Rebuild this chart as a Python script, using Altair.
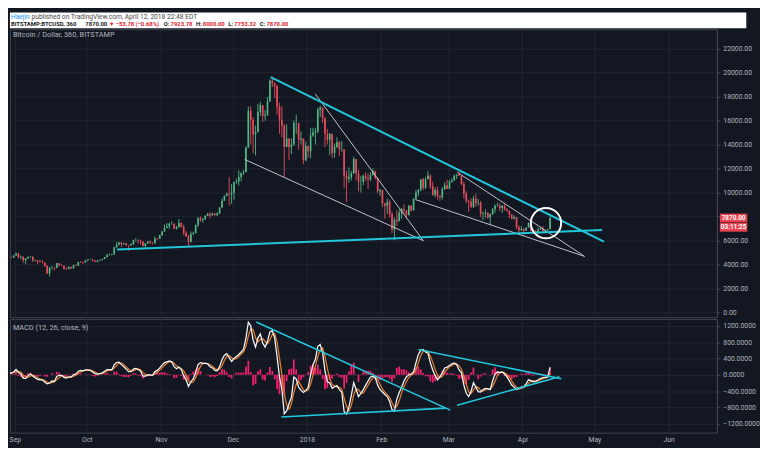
import altair as alt
import pandas as pd

# ---------------- data (daily candles) ----------------
first_open = 4560
close_aug = [4580, 4570, 4730]
close_sep = [4900, 4580, 4640, 4340, 4480, 4610, 4620, 4310, 4330, 4220,
             4190, 4160, 3870, 3240, 3700, 3700, 3690, 4090, 3910, 3880,
             3620, 3610, 3790, 3660, 3930, 3890, 4200, 4190, 4160, 4340]
close_oct = [4400, 4410, 4310, 4220, 4320, 4370, 4440, 4610, 4770, 4780,
             4820, 5430, 5640, 5830, 5680, 5750, 5600, 5570, 5700, 6000,
             6010, 5980, 5900, 5520, 5750, 5890, 5770, 5750, 6150, 6130, 6450]
close_nov = [6740, 7030, 7160, 7390, 7390, 6960, 7100, 7460, 7140, 6620,
             6340, 5860, 6530, 6600, 7280, 7850, 7700, 7790, 8040, 8200,
             8070, 8240, 8100, 8250, 8750, 9300, 9730, 9900, 9850, 9950]
close_dec = [10860, 10910, 11290, 11640, 11700, 13750, 16800, 16050, 14850, 15060,
             16730, 17280, 16400, 16490, 17600, 19340, 19100, 18900, 17140, 16100,
             15580, 13800, 14500, 13800, 14000, 15800, 15800, 14400, 14500, 12700, 13880]
close_jan = [13440, 14750, 15000, 15100, 16900, 17100, 16200, 14900, 14400, 14900,
             13300, 13800, 14200, 13600, 13600, 11400, 11150, 11300, 11600, 12800,
             11600, 10900, 10900, 11400, 11200, 11100, 11450, 11800, 11200, 10100, 10200]
close_feb = [9100, 8900, 9200, 8200, 6900, 7700, 7600, 8300, 8600, 8500,
             8100, 8900, 8500, 9500, 10000, 10200, 11100, 10400, 11100, 11400,
             10500, 9800, 10200, 9700, 9600, 10300, 10600, 10300]
close_mar = [10900, 11000, 11400, 11500, 11400, 10700, 9900, 9300, 9200, 8800,
             9500, 9100, 9150, 8200, 8250, 8300, 7900, 8200, 8600, 8900,
             8900, 8700, 8900, 8550, 8450, 8150, 7800, 7950, 7100, 6850, 6950]
close_apr = [6800, 7050, 7450, 6800, 6780, 6620, 6900, 7020, 6770, 6840, 6950, 7870]

high_aug = [4650, 4640, 4760]
high_sep = [4980, 4940, 4720, 4650, 4520, 4670, 4690, 4720, 4400, 4350,
            4380, 4360, 4190, 3920, 3780, 3870, 3790, 4120, 4110, 4030,
            3890, 3750, 3810, 3790, 3970, 3990, 4220, 4270, 4230, 4360]
high_oct = [4410, 4470, 4430, 4340, 4360, 4420, 4460, 4620, 4860, 4920,
            4880, 5450, 5850, 5840, 5860, 5780, 5770, 5600, 5740, 6060,
            6190, 6070, 6070, 5910, 5760, 5960, 6000, 5830, 6330, 6190, 6470]
high_nov = [6770, 7330, 7440, 7480, 7590, 7410, 7200, 7780, 7500, 7310,
            6800, 6460, 6740, 6730, 7320, 7960, 8000, 7860, 8110, 8290,
            8370, 8300, 8260, 8360, 8780, 9490, 9740, 9980, 11300, 10700]
high_dec = [10900, 11160, 11850, 11650, 11880, 13840, 17170, 17200, 16300, 15600,
            17400, 17580, 17290, 16900, 17990, 19450, 19666, 19200, 18960, 17500,
            17200, 15700, 15700, 14500, 14500, 16000, 16500, 15800, 15100, 14500, 14250]
high_jan = [13900, 15400, 15400, 15400, 17100, 17250, 17100, 16300, 15300, 14950,
            14900, 14100, 14600, 14300, 14300, 13600, 11800, 12100, 11800, 13000,
            12800, 11900, 11400, 11500, 11700, 11600, 11700, 12000, 11800, 11250, 10300]
high_feb = [10200, 9100, 9500, 9400, 8400, 7900, 8500, 8600, 8700, 9000,
            8500, 8950, 8950, 9500, 10200, 10300, 11100, 11250, 11300, 11780,
            11500, 10900, 10400, 10500, 9800, 10450, 10850, 11050]
high_mar = [11050, 11200, 11500, 11500, 11700, 11400, 10900, 10100, 9400, 9500,
            9700, 9900, 9450, 9300, 8400, 8600, 8350, 8250, 8700, 9000,
            9150, 9100, 8950, 9000, 8700, 8500, 8200, 8100, 7950, 7250, 7200]
high_apr = [7050, 7100, 7500, 7450, 6900, 6850, 7050, 7100, 7200, 6900, 6970, 8000]

low_aug = [4500, 4520, 4550]
low_sep = [4700, 4500, 4450, 4130, 4000, 4450, 4540, 4200, 4230, 4010,
           4140, 4080, 3780, 3200, 2980, 3560, 3480, 3680, 3850, 3850,
           3570, 3510, 3580, 3640, 3650, 3860, 3880, 4110, 4040, 4150]
low_oct = [4290, 4370, 4240, 4200, 4160, 4310, 4320, 4430, 4560, 4720,
           4750, 4810, 5380, 5580, 5450, 5640, 5520, 5130, 5550, 5620,
           5900, 5730, 5650, 5490, 5410, 5720, 5710, 5660, 5720, 6030, 6110]
low_nov = [6370, 6740, 7020, 6950, 7310, 6960, 6900, 7060, 7050, 6420,
           6280, 5520, 5830, 6440, 6600, 7120, 7560, 7480, 7710, 8040,
           7850, 8070, 8080, 8040, 8220, 8720, 9300, 9690, 8900, 9050]
low_dec = [9400, 10720, 10580, 10930, 11460, 11690, 13720, 14000, 13300, 13100,
           15000, 16400, 15900, 16000, 16390, 17580, 18800, 17900, 16500, 14900,
           14600, 11300, 13800, 12700, 13200, 13900, 14900, 13600, 14000, 12350, 12600]
low_jan = [12900, 12870, 14650, 14000, 14950, 16300, 15800, 13800, 14000, 13100,
           12850, 12900, 13700, 13050, 13400, 10400, 9200, 10800, 11000, 11550,
           11000, 10100, 10000, 10600, 10950, 10300, 10950, 11400, 11100, 9950, 9700]
low_feb = [8800, 7800, 8200, 7900, 6600, 6000, 7200, 7600, 7800, 8200,
           7850, 8100, 8400, 8500, 9400, 9700, 10100, 10200, 10300, 11100,
           10300, 9700, 9600, 9400, 9300, 9400, 10200, 10300]
low_mar = [10300, 10800, 10990, 11100, 11400, 10600, 9500, 9100, 8400, 8700,
           8700, 8800, 8900, 7950, 7700, 7900, 7800, 7300, 8100, 8300,
           8800, 8450, 8300, 8500, 8400, 7850, 7750, 7750, 6950, 6600, 6800]
low_apr = [6450, 6800, 7050, 6750, 6600, 6500, 6600, 6900, 6620, 6700, 6820, 6900]

# MACD (12, 26, close, 9)
macd_aug = [60, 40, 70]
macd_sep = [130, 60, 20, -80, -90, -20, 20, -30, -70, -110,
            -120, -120, -180, -220, -200, -150, -160, -40, -10, -10,
            -60, -80, -50, -50, 0, 20, 90, 110, 100, 120]
macd_oct = [120, 110, 70, 30, 20, 30, 50, 90, 130, 130,
            120, 250, 300, 310, 250, 200, 140, 80, 80, 140,
            160, 130, 90, -30, -30, 0, 0, -10, 80, 110, 170]
macd_nov = [240, 300, 320, 340, 320, 200, 150, 190, 130, -20,
            -120, -280, -170, -100, 60, 250, 300, 280, 280, 270,
            200, 170, 110, 100, 200, 370, 480, 520, 420, 330]
macd_dec = [400, 450, 500, 560, 620, 900, 1290, 1200, 850, 680,
            900, 1000, 780, 680, 820, 1050, 1080, 900, 450, -50,
            -350, -950, -880, -700, -550, -50, -100, -300, -380, -430, -380]
macd_jan = [-310, 0, 250, 380, 700, 740, 550, 100, -170, -200,
            -330, -290, -260, -360, -420, -900, -960, -790, -500, -190,
            -350, -530, -450, -360, -250, -150, -50, -30, -70, -250, -360]
macd_feb = [-420, -480, -530, -650, -850, -890, -600, -430, -300, -150,
            -50, 0, 20, 70, 300, 500, 600, 620, 560, 530,
            300, 120, -20, -120, -50, 50, 170, 190]
macd_mar = [230, 270, 290, 250, 120, 50, -250, -450, -530, -400,
            -190, -300, -410, -420, -360, -330, -340, -360, -150, 20,
            70, 60, 70, 20, -50, -150, -250, -300, -360, -340, -300]
macd_apr = [-290, -220, -120, -140, -170, -160, -120, -90, -70, -60, -50, 190]

sig_aug = [50, 50, 55]
sig_sep = [81, 86, 69, -2, -51, -62, -29, -10, -28, -71,
           -100, -117, -141, -175, -200, -189, -170, -115, -69, -20,
           -28, -51, -63, -60, -33, -9, 38, 74, 100, 110]
sig_oct = [113, 116, 99, 69, 39, 27, 34, 57, 91, 117,
           126, 169, 225, 287, 286, 252, 195, 139, 100, 101,
           128, 143, 126, 61, 9, -20, -10, -4, 25, 61, 121]
sig_nov = [175, 238, 287, 320, 326, 284, 221, 180, 156, 97,
           -6, -143, -190, -181, -67, 74, 206, 277, 286, 277,
           249, 212, 159, 126, 138, 227, 353, 458, 472, 421]
sig_dec = [384, 395, 451, 505, 562, 699, 946, 1132, 1107, 904,
           812, 864, 891, 817, 762, 855, 986, 1007, 801, 421,
           8, -463, -730, -840, -706, -424, -230, -154, -263, -372, -396]
sig_jan = [-372, -224, -13, 214, 450, 610, 660, 454, 152, -93,
           -236, -274, -293, -305, -349, -569, -765, -881, -744, -486,
           -347, -361, -444, -445, -351, -251, -148, -76, -51, -120, -230]
sig_feb = [-345, -422, -478, -556, -681, -799, -776, -635, -440, -290,
           -164, -65, -9, 31, 134, 295, 470, 575, 593, 569,
           459, 312, 130, -10, -63, -38, 60, 138]
sig_mar = [198, 231, 264, 270, 218, 138, -32, -223, -413, -459,
           -369, -297, -303, -378, -396, -369, -343, -344, -280, -159,
           -18, 50, 67, 49, 12, -62, -152, -235, -305, -334, -332]
sig_apr = [-310, -269, -208, -160, -144, -157, -149, -123, -93, -73, -60, 31]

# drawn trend lines (price pane)
cyan_seg = ["c1", "c1", "c2", "c2"]
cyan_dates = ["2017-12-16T20:00:00Z", "2018-05-05T00:00:00Z",
              "2017-10-13T17:00:00Z", "2018-05-04T05:00:00Z"]
cyan_prices = [19628, 5888, 5234, 6870]
white_seg = ["w1", "w1", "w2", "w2", "w3", "w3", "w4", "w4"]
white_dates = ["2017-12-06T00:00:00Z", "2018-02-18T14:00:00Z",
               "2018-01-04T10:00:00Z", "2018-02-18T14:00:00Z",
               "2018-02-15T07:00:00Z", "2018-04-26T22:00:00Z",
               "2018-03-04T17:00:00Z", "2018-04-26T22:00:00Z"]
white_prices = [12757, 5970, 18237, 5970, 9405, 4661, 11695, 4661]
circle_dates = ["2018-04-10T19:00:00Z"]
circle_prices = [7442]
# drawn trend lines (MACD pane)
mcyan_seg = ["m1", "m1", "m2", "m2", "m3", "m3", "m4", "m4"]
mcyan_dates = ["2017-12-10T19:00:00Z", "2018-03-01T20:00:00Z",
               "2017-12-21T07:00:00Z", "2018-02-27T19:00:00Z",
               "2018-02-16T12:00:00Z", "2018-04-17T05:00:00Z",
               "2018-03-04T17:00:00Z", "2018-04-16T10:00:00Z"]
mcyan_values = [1293, -862, -1030, -814, 623, -96, -742, -48]

last_price = [7870]
last_labels = ["7870.00", "03:11:25"]

price_ticks = [0, 2000, 4000, 6000, 8000, 10000, 12000, 14000, 16000, 18000, 20000, 22000]
macd_ticks = [-1200, -800, -400, 0, 400, 800, 1200]
month_ticks = [(2017, 9), (2017, 10), (2017, 11), (2017, 12), (2018, 1),
               (2018, 2), (2018, 3), (2018, 4), (2018, 5), (2018, 6)]

# ---------------- tables ----------------
closes = close_aug + close_sep + close_oct + close_nov + close_dec + close_jan + close_feb + close_mar + close_apr
highs = high_aug + high_sep + high_oct + high_nov + high_dec + high_jan + high_feb + high_mar + high_apr
lows = low_aug + low_sep + low_oct + low_nov + low_dec + low_jan + low_feb + low_mar + low_apr
macd = macd_aug + macd_sep + macd_oct + macd_nov + macd_dec + macd_jan + macd_feb + macd_mar + macd_apr
sig = sig_aug + sig_sep + sig_oct + sig_nov + sig_dec + sig_jan + sig_feb + sig_mar + sig_apr
n = len(closes)
opens = [first_open] + closes[:-1]
dates = pd.date_range("2017-08-29 12:00", periods=n, freq="D")
date_str = [d.strftime("%Y-%m-%dT%H:%M:%SZ") for d in dates]

candles = pd.DataFrame({"date": date_str, "open": opens, "high": highs[:n],
                        "low": lows[:n], "close": closes})
candles["dir"] = ["up" if c >= o else "down" for o, c in zip(opens, closes)]

m = min(len(macd), len(sig), n)
macd_df = pd.DataFrame({"date": date_str[:m], "macd": macd[:m], "signal": sig[:m]})
macd_df["hist"] = macd_df["macd"] - macd_df["signal"]

cyan_df = pd.DataFrame({"seg": cyan_seg, "date": cyan_dates, "price": cyan_prices})
white_df = pd.DataFrame({"seg": white_seg, "date": white_dates, "price": white_prices})
circle_df = pd.DataFrame({"date": circle_dates, "price": circle_prices})
mcyan_df = pd.DataFrame({"seg": mcyan_seg, "date": mcyan_dates, "value": mcyan_values})
box_df = pd.DataFrame({"price": last_price})
one = pd.DataFrame({"k": [0]})

# ---------------- style ----------------
BG = "#131722"
GRID = "#222632"
BORDER = "#434651"
TXT = "#b2b5be"
UP = "#53b987"
DOWN = "#eb4d5c"
CYAN = "#22c7dc"
WLINE = "#c3c5cc"
MACD_C = "#f4f4f4"
SIG_C = "#e07b2e"
HIST_C = "#f0226c"
RED_BOX = "#e8434f"
FONT = "Roboto"

W = 722
H_HEAD = 16
H_PRICE = 294
H_MACD = 116

month_vals = [alt.DateTime(year=y, month=mo, date=1, utc=True) for y, mo in month_ticks]
xscale = alt.Scale(type="utc", domain=[alt.DateTime(year=2017, month=9, date=1, utc=True),
                                       alt.DateTime(year=2018, month=6, date=19, hours=3, utc=True)])
yprice = alt.Scale(domain=[-409, 23634], nice=False, zero=False)
ymacd = alt.Scale(domain=[-1413, 1365], nice=False, zero=False)

price_x_axis = alt.Axis(values=month_vals, labels=False, ticks=False, domain=False,
                        grid=True, gridColor=GRID, title=None)
macd_x_axis = alt.Axis(values=month_vals, ticks=False, domain=False, grid=True, gridColor=GRID,
                       labelExpr="utcFormat(datum.value, '%m') == '01' ? utcFormat(datum.value, '%Y') : utcFormat(datum.value, '%b')",
                       labelFont=FONT, labelFontSize=7, labelColor=TXT, labelPadding=3,
                       labelFlush=True, labelOverlap=False, title=None)
# the 8000 label sits under the last-price box, as in the reference
price_y_axis = alt.Axis(orient="right", values=price_ticks,
                        labelExpr="datum.value == 8000 ? '' : format(datum.value, '.2f')",
                        labelFont=FONT, labelFontSize=7, labelColor=TXT, labelPadding=3, tickSize=3,
                        tickColor=BORDER, domainColor=BORDER, grid=True, gridColor=GRID,
                        labelOverlap=False, title=None)
macd_y_axis = alt.Axis(orient="right", values=macd_ticks, format=".4f", labelFont=FONT,
                       labelFontSize=7, labelColor=TXT, labelPadding=3, tickSize=3,
                       tickColor=BORDER, domainColor=BORDER, grid=True, gridColor=GRID,
                       labelOverlap=False, title=None)

def px(axis):
    return alt.X("date:T", scale=xscale, axis=axis, title=None)

def py(field):
    return alt.Y(field, scale=yprice, axis=price_y_axis, title=None)

def my(field):
    return alt.Y(field, scale=ymacd, axis=macd_y_axis, title=None)

color_enc = alt.Color("dir:N", scale=alt.Scale(domain=["up", "down"], range=[UP, DOWN]), legend=None)

# ---------------- header ----------------
header_parts = [
    ("Haejin", 1, 4.5, "#2196f3", "normal", 6.8),
    ("published on TradingView.com, April 12, 2018 22:48 EDT", 22, 4.5, "#4a4a4a", "normal", 6.8),
    ("BITSTAMP:BTCUSD, 360", 1, 12, "#131722", "bold", 6),
    ("7870.00", 77, 12, "#131722", "bold", 6),
    ("\u25bc", 101, 12, "#e2192c", "normal", 6),
    ("\u221253.78 (\u22120.68%)", 108, 12, "#e2192c", "bold", 6),
    ("O:", 157, 12, "#131722", "bold", 6),
    ("7923.78", 164, 12, "#e2192c", "bold", 6),
    ("H:", 190, 12, "#131722", "bold", 6),
    ("8000.00", 197, 12, "#e2192c", "bold", 6),
    ("L:", 223, 12, "#131722", "bold", 6),
    ("7753.32", 229, 12, "#e2192c", "bold", 6),
    ("C:", 255, 12, "#131722", "bold", 6),
    ("7870.00", 262, 12, "#e2192c", "bold", 6),
]
head_layers = [
    alt.Chart(one).mark_text(align="left", baseline="middle", font=FONT, fontSize=fs,
                             fontWeight=fw, color=col)
    .encode(x=alt.value(xx), y=alt.value(yy), text=alt.value(t))
    for t, xx, yy, col, fw, fs in header_parts
]
header = alt.layer(*head_layers).properties(
    width=752, height=H_HEAD,
    view=alt.ViewBackground(fill="#ffffff", stroke="#ffffff", strokeWidth=0))

# ---------------- price pane ----------------
cand = alt.Chart(candles)
wicks = cand.mark_rule(strokeWidth=1, clip=True, opacity=0.9).encode(
    x=px(price_x_axis), y=py("low:Q"), y2="high:Q", color=color_enc)
bodies = cand.mark_bar(width=1.7, clip=True, opacity=0.95).encode(
    x=px(price_x_axis), y=py("open:Q"), y2="close:Q", color=color_enc)
white_lines = alt.Chart(white_df).mark_line(color=WLINE, strokeWidth=1, clip=True).encode(
    x=px(price_x_axis), y=py("price:Q"), detail="seg:N")
cyan_lines = alt.Chart(cyan_df).mark_line(color=CYAN, strokeWidth=2, clip=True).encode(
    x=px(price_x_axis), y=py("price:Q"), detail="seg:N")
circle = alt.Chart(circle_df).mark_point(shape="circle", size=960, filled=False, color="#ffffff",
                                         strokeWidth=2, opacity=1).encode(
    x=px(price_x_axis), y=py("price:Q"))
price_title = alt.Chart(one).mark_text(align="left", baseline="middle", font=FONT, fontSize=7.5,
                                       color=TXT).encode(
    x=alt.value(3), y=alt.value(6), text=alt.value("Bitcoin / Dollar, 360, BITSTAMP"))
BOX = "M-1,-0.32L1,-0.32L1,0.32L-1,0.32Z"
box1 = alt.Chart(box_df).mark_point(shape=BOX, filled=True, size=784, color=RED_BOX, opacity=1,
                                    clip=False).encode(x=alt.value(739), y=py("price:Q"))
box2 = alt.Chart(box_df).mark_point(shape=BOX, filled=True, size=784, color=RED_BOX, opacity=1,
                                    clip=False, yOffset=9.5).encode(x=alt.value(739), y=py("price:Q"))
txt1 = alt.Chart(box_df).mark_text(font=FONT, fontSize=6.5, fontWeight="bold", color="#ffffff",
                                   align="center", baseline="middle").encode(
    x=alt.value(739), y=py("price:Q"), text=alt.value(last_labels[0]))
txt2 = alt.Chart(box_df).mark_text(font=FONT, fontSize=6.5, fontWeight="bold", color="#ffffff",
                                   align="center", baseline="middle", dy=9.5).encode(
    x=alt.value(739), y=py("price:Q"), text=alt.value(last_labels[1]))

price = alt.layer(wicks, bodies, white_lines, cyan_lines, circle, price_title,
                  box1, txt1, box2, txt2).properties(
    width=W, height=H_PRICE,
    view=alt.ViewBackground(fill=BG, stroke=BORDER, strokeWidth=1))

# ---------------- MACD pane ----------------
mbase = alt.Chart(macd_df)
hist = mbase.mark_bar(width=1.8, color=HIST_C, clip=True).encode(
    x=px(macd_x_axis), y=my("hist:Q"), y2=alt.Y2Datum(0))
sig_line = mbase.mark_line(color=SIG_C, strokeWidth=1.3, clip=True).encode(
    x=px(macd_x_axis), y=my("signal:Q"))
macd_line = mbase.mark_line(color=MACD_C, strokeWidth=1.3, clip=True).encode(
    x=px(macd_x_axis), y=my("macd:Q"))
mcyan = alt.Chart(mcyan_df).mark_line(color=CYAN, strokeWidth=1.6, clip=True).encode(
    x=px(macd_x_axis), y=my("value:Q"), detail="seg:N")
macd_title = alt.Chart(one).mark_text(align="left", baseline="middle", font=FONT, fontSize=7.5,
                                      color=TXT).encode(
    x=alt.value(3), y=alt.value(9), text=alt.value("MACD (12, 26, close, 9)"))

macd_pane = alt.layer(hist, sig_line, macd_line, mcyan, macd_title).properties(
    width=W, height=H_MACD,
    view=alt.ViewBackground(fill=BG, stroke=BORDER, strokeWidth=1))

chart = alt.vconcat(header, price, macd_pane, spacing=0).properties(
    padding=0
).configure(background=BG)

chart.save("out.html", embed_options={"renderer": "svg", "actions": False})
